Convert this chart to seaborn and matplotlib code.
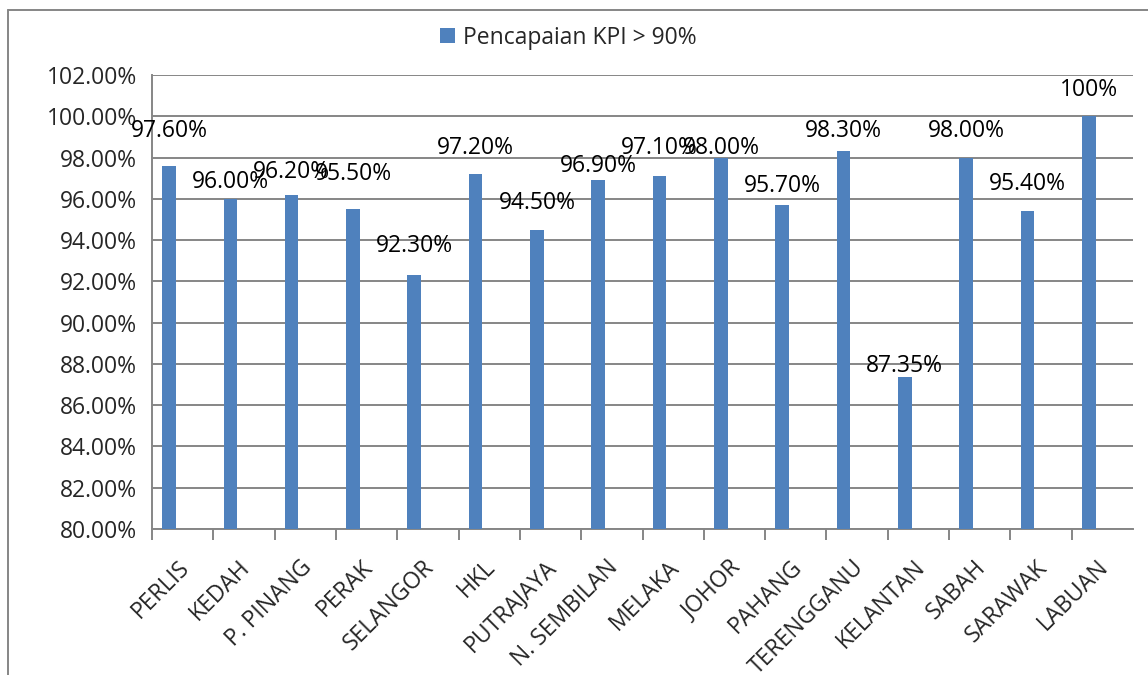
import numpy as np
import pandas as pd
import seaborn as sns
import matplotlib.pyplot as plt
from matplotlib.lines import Line2D
from matplotlib.ticker import FuncFormatter, FixedLocator

# data
states = ['PERLIS', 'KEDAH', 'P. PINANG', 'PERAK', 'SELANGOR', 'HKL', 'PUTRAJAYA',
          'N. SEMBILAN', 'MELAKA', 'JOHOR', 'PAHANG', 'TERENGGANU', 'KELANTAN',
          'SABAH', 'SARAWAK', 'LABUAN']
kpi = [97.6, 96.0, 96.2, 95.5, 92.3, 97.2, 94.5, 96.9, 97.1, 98.0, 95.7, 98.3,
       87.35, 98.0, 95.4, 100.0]
bar_labels = ['97.60%', '96.00%', '96.20%', '95.50%', '92.30%', '97.20%', '94.50%',
              '96.90%', '97.10%', '98.00%', '95.70%', '98.30%', '87.35%', '98.00%',
              '95.40%', '100%']
# how far above each bar its label sits (labels were hand-placed in the original)
label_lift = [1.7, 0.8, 1.1, 1.7, 1.4, 1.25, 1.3, 0.7, 1.35, 0.45, 0.9, 1.0,
              0.55, 1.3, 1.3, 1.26]

sns.set_style('white')
plt.rcParams['font.family'] = ['Open Sans', 'DejaVu Sans']

blue = '#4F81BD'
grey = '#868686'
fs = 16.5

df = pd.DataFrame({'state': states, 'kpi': kpi})

fig = plt.figure(figsize=(11.48, 6.75), dpi=100)
ax = fig.add_axes([0.1324, 0.2163, 0.8546, 0.6726])

bw = 1 / 4.5
sns.barplot(data=df, x='state', y='kpi', color=blue, width=bw, saturation=1,
            linewidth=0, ax=ax, label='Pencapaian KPI > 90%', zorder=3)

ax.set_ylim(80, 102)
ax.set_xlim(-0.278, len(states) - 0.278)
ax.yaxis.set_major_locator(FixedLocator(np.arange(80, 103, 2)))
ax.yaxis.set_major_formatter(FuncFormatter(lambda v, p: '{:.2f}%'.format(v)))
ax.yaxis.grid(True, color=grey, linewidth=1.4, zorder=0)
ax.set_axisbelow(True)

# category ticks at boundaries, labels near category centres
ax.set_xticks(np.arange(len(states)) - 0.278, minor=True)
ax.set_xticks(np.arange(len(states)) + 0.13)
ax.set_xticklabels(states, rotation=45, ha='right', va='top', rotation_mode='anchor')
ax.tick_params(axis='x', which='major', length=0, pad=19, labelsize=fs)
ax.tick_params(axis='x', which='minor', length=8, width=1.4, color=grey, direction='out')
ax.tick_params(axis='y', length=8, width=1.4, color=grey, direction='out', labelsize=fs, pad=3)
ax.xaxis.set_tick_params(bottom=True, which='both')

for s in ['top', 'right']:
    ax.spines[s].set_visible(False)
for s in ['left', 'bottom']:
    ax.spines[s].set_color(grey)
    ax.spines[s].set_linewidth(1.4)

ax.set_xlabel('')
ax.set_ylabel('')

for i, (v, t, d) in enumerate(zip(kpi, bar_labels, label_lift)):
    ax.text(i, v + d, t, ha='center', va='center', fontsize=fs, color='black', zorder=5)

ax.legend(loc='center', bbox_to_anchor=(0.495, 0.944), bbox_transform=fig.transFigure,
          frameon=False, fontsize=fs, handlelength=0.65, handleheight=0.65,
          handletextpad=0.35)

# outer chart border
fig.add_artist(Line2D([8 / 1148, 1], [1 - 10 / 675, 1 - 10 / 675], color=grey, lw=1.4))
fig.add_artist(Line2D([8 / 1148, 8 / 1148], [0, 1 - 10 / 675], color=grey, lw=1.4))

fig.savefig('out.png', dpi=100)
